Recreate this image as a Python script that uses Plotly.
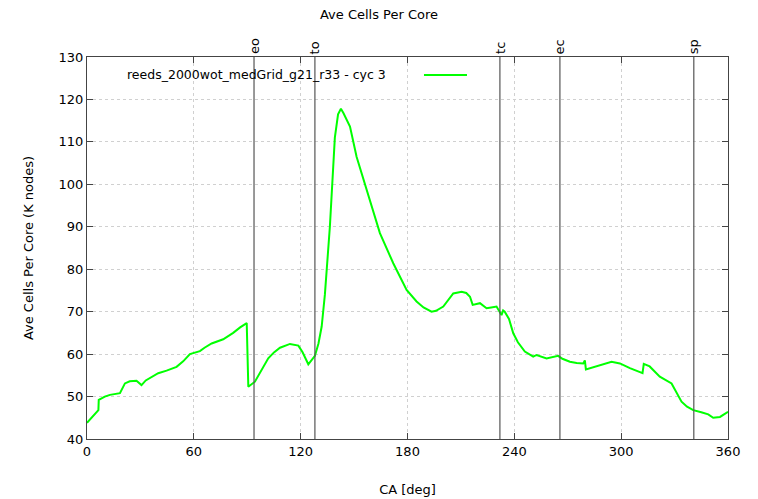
import plotly.graph_objects as go

# Data
ca_deg = [0, 3, 6.4, 6.6, 10, 12.9, 18.5, 21.3, 24, 27.8, 30.6, 33, 36.3, 40, 44.7, 50.3, 54,
          57.8, 63.4, 66, 70, 76.5, 82.1, 86, 89.7, 90.6, 94.3, 98.1, 101.8, 105, 108.4, 114,
          118.7, 121, 124.3, 128, 130, 131.8, 133.6, 136.4, 139.2, 141, 142.6, 144, 145.8,
          147.7, 151.4, 155.1, 158.9, 164.5, 172, 179.5, 185.1, 189, 193.5, 196, 200.1,
          203, 205.7, 210.4, 213, 215.1, 216.6, 220.7, 224.4, 227, 230, 232.8, 233.7, 234.6,
          237, 239.4, 242, 245.9, 250.6, 252.5, 258.1, 264.6, 267, 271.2, 275, 278.7, 279.6,
          280.2, 286.2, 294.6, 299.3, 304.9, 312, 312.7, 316, 321.7, 328.3, 331.1, 333.9,
          337, 340.5, 345, 348.9, 351.7, 355.5, 360]
cells_k = [43.8, 45.2, 46.8, 49.2, 50.0, 50.4, 50.8, 53.1, 53.6, 53.7, 52.7, 53.8, 54.7, 55.5,
           56.1, 57.0, 58.3, 60.0, 60.7, 61.5, 62.5, 63.5, 65.0, 66.3, 67.3, 52.3, 53.5,
           56.3, 59.0, 60.4, 61.5, 62.4, 62.0, 60.5, 57.6, 59.6, 62.5, 66.5, 74.0, 90.0,
           111.0, 116.5, 117.8, 116.8, 115.2, 113.6, 106.5, 101.4, 95.9, 88.5, 81.4, 75.1,
           72.4, 71.0, 70.0, 70.2, 71.2, 72.8, 74.3, 74.7, 74.4, 73.5, 71.6, 72.0, 70.8,
           71.0, 71.2, 69.2, 70.3, 70.0, 68.3, 64.9, 62.8, 60.6, 59.4, 59.8, 59.0, 59.6,
           58.9, 58.2, 57.9, 57.8, 58.5, 56.4, 57.2, 58.2, 57.8, 56.7, 55.5, 57.7, 57.1,
           54.7, 53.1, 50.8, 48.8, 47.6, 46.8, 46.3, 45.8, 45.0, 45.2, 46.4]

event_labels = ["eo", "to", "tc", "ec", "sp"]
event_ca = [93.8, 128.0, 231.9, 265.6, 340.8]

x_ticks = [0, 60, 120, 180, 240, 300, 360]
y_ticks = [40, 50, 60, 70, 80, 90, 100, 110, 120, 130]

series_name = "reeds_2000wot_medGrid_g21_r33 - cyc 3"
FONT = "DejaVu Sans"

fig = go.Figure()
fig.add_trace(go.Scatter(x=ca_deg, y=cells_k, mode="lines",
                         line=dict(color="#00ff00", width=2),
                         name=series_name, showlegend=False))

for lab, xv in zip(event_labels, event_ca):
    fig.add_shape(type="line", xref="x", yref="paper", x0=xv, x1=xv, y0=0, y1=1,
                  line=dict(color="#555555", width=1.2), layer="above")
    fig.add_annotation(x=xv, y=1, xref="x", yref="paper", text=lab, showarrow=False,
                       textangle=-90, xanchor="center", yanchor="bottom", yshift=1,
                       font=dict(family=FONT, size=13, color="black"))

# legend (gnuplot style: text then line sample)
fig.add_annotation(x=0.4696, y=0.953, xref="paper", yref="paper", text=series_name,
                   showarrow=False, xanchor="right", yanchor="middle",
                   font=dict(family=FONT, size=12.5, color="black"))
fig.add_shape(type="line", xref="paper", yref="paper", x0=0.5257, x1=0.5928,
              y0=0.953, y1=0.953, line=dict(color="#00ff00", width=2))

axis_common = dict(showline=True, linecolor="#444444", linewidth=1, mirror="ticks",
                   ticks="inside", ticklen=6, tickcolor="#444444", automargin=False,
                   showgrid=True, gridcolor="#d0d0d0", griddash="dot", gridwidth=1,
                   zeroline=False, tickfont=dict(family=FONT, size=13, color="black"))

fig.update_xaxes(range=[0, 360], tickvals=x_ticks,
                 title=dict(text="CA [deg]", font=dict(family=FONT, size=13, color="black"),
                            standoff=27),
                 **axis_common)
fig.update_yaxes(range=[40, 130], tickvals=y_ticks,
                 title=dict(text="Ave Cells Per Core (K nodes)",
                            font=dict(family=FONT, size=13, color="black"), standoff=22),
                 **axis_common)

fig.update_layout(
    width=758, height=499,
    margin=dict(l=87, r=30, t=57, b=60),
    plot_bgcolor="white", paper_bgcolor="white",
    title=dict(text="Ave Cells Per Core", x=0.5, xanchor="center", y=0.972, yanchor="middle",
               font=dict(family=FONT, size=13, color="black")),
    font=dict(family=FONT, size=13, color="black"),
)

fig.write_html("out.html")
